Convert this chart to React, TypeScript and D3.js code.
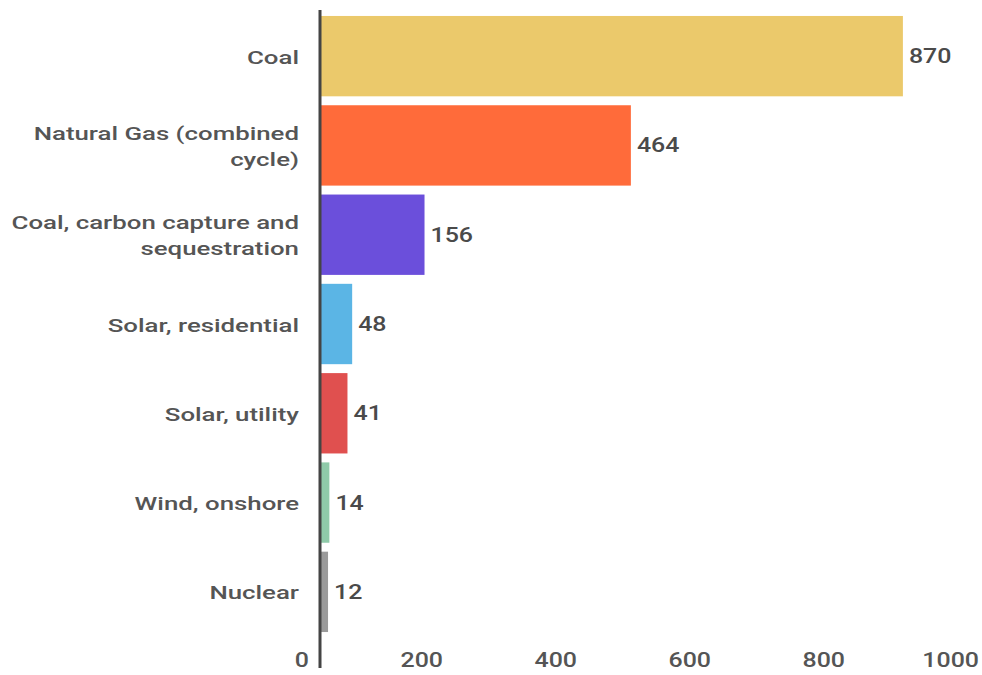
import React from "react";
import * as d3 from "d3";

const categories: string[][] = [
  ["Coal"],
  ["Natural Gas (combined", "cycle)"],
  ["Coal, carbon capture and", "sequestration"],
  ["Solar, residential"],
  ["Solar, utility"],
  ["Wind, onshore"],
  ["Nuclear"],
];
const values: number[] = [870, 464, 156, 48, 41, 14, 12];
const colors: string[] = ["#EBC96B", "#FF6B3A", "#6B4FDB", "#5BB5E5", "#E0504F", "#8FCAA9", "#9A9A9A"];
const ticks: number[] = [0, 200, 400, 600, 800, 1000];

const W = 982;
const H = 675;
const SX = 1.28;
const SXL = 1.36;
const FONT = "Roboto, 'Noto Sans', sans-serif";

export default function App() {
  const keys = categories.map((c) => c.join(" "));
  const x = d3.scaleLinear().domain([0, 1000]).range([320, 990]);
  const y = d3.scaleBand<string>().domain(keys).range([11.5, 636.5]).paddingInner(0.1).paddingOuter(0.05);
  const bw = y.bandwidth();

  return (
    <svg width={W} height={H} style={{ position: "absolute", left: 0, top: 0, background: "#fff" }}>
      <rect x={0} y={0} width={W} height={H} fill="#fff" />
      {keys.map((k, i) => {
        const y0 = y(k)!;
        const cy = y0 + bw / 2;
        const lines = categories[i];
        const lh = 26;
        return (
          <g key={k}>
            <rect x={x(0)} y={y0} width={x(values[i]) - x(0)} height={bw} fill={colors[i]} />
            <text
              transform={`translate(${x(values[i]) + 6},${cy + 7}) scale(${SX},1)`}
              fontFamily={FONT}
              fontWeight={500}
              fontSize={19.5}
              fill="#4a4a4a"
            >
              {values[i]}
            </text>
            {lines.map((ln, j) => (
              <text
                key={j}
                transform={`translate(299,${cy + 7.5 + (j - (lines.length - 1) / 2) * lh}) scale(${SXL},1)`}
                textAnchor="end"
                fontFamily={FONT}
                fontWeight={500}
                fontSize={19}
                fill="#555"
              >
                {ln}
              </text>
            ))}
          </g>
        );
      })}
      <line x1={x(0)} x2={x(0)} y1={10} y2={668} stroke="#444" strokeWidth={3} />
      {ticks.map((t) => (
        <text
          key={t}
          transform={`translate(${x(t) - 11},667) scale(${SX},1)`}
          textAnchor="end"
          fontFamily={FONT}
          fontWeight={500}
          fontSize={19.5}
          fill="#555"
        >
          {t}
        </text>
      ))}
    </svg>
  );
}
